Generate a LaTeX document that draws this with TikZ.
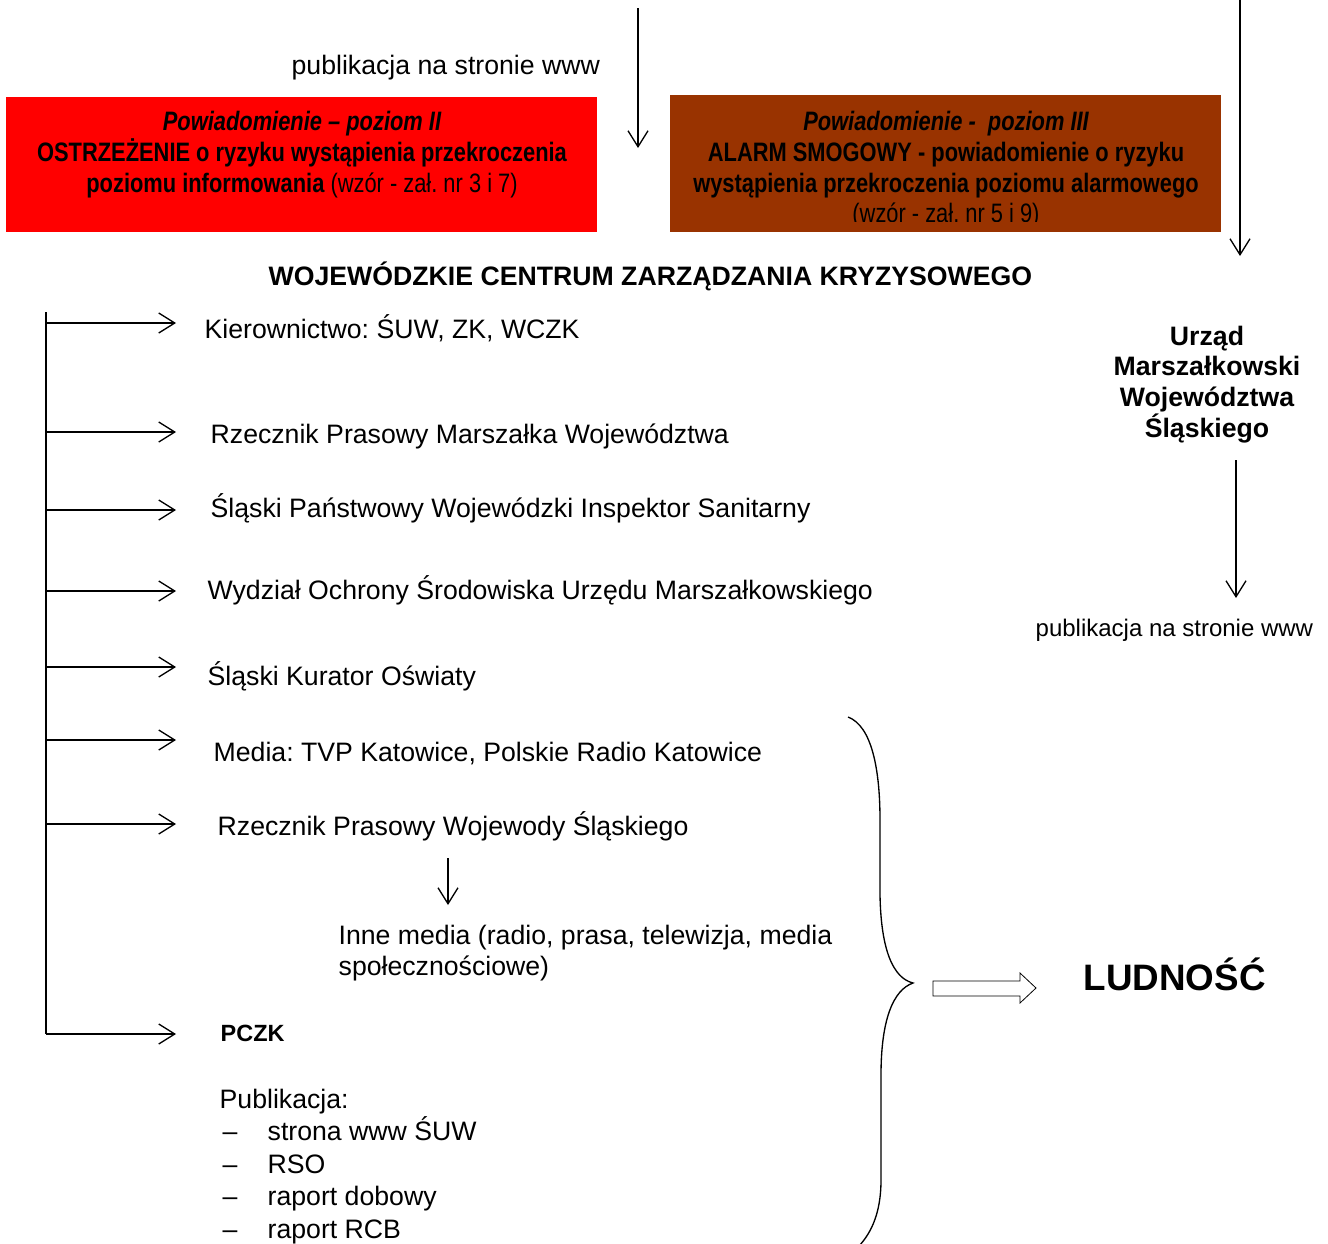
\documentclass[tikz,border=0pt]{standalone}
\usepackage{fontspec}
\setmainfont{Liberation Sans}
\newfontfamily\narrowfont[FakeStretch=0.82]{Liberation Sans}
\usetikzlibrary{arrows.meta,positioning}
\definecolor{alarmred}{HTML}{FF0000}
\definecolor{alarmbrown}{HTML}{993300}
\frenchspacing

\begin{document}
\begin{tikzpicture}[x=0.75pt,y=-0.75pt,line width=1pt,
                    >={Straight Barb[length=12pt,width=15pt]},
                    every node/.style={inner sep=0pt,font=\fontsize{20}{23}\selectfont},
                    textt/.style={anchor=base west},
                    boldd/.style={anchor=base,font=\fontsize{20}{23}\selectfont\bfseries},
                    boxline/.style={anchor=base,font=\narrowfont\fontsize{20}{23}\selectfont\bfseries},
                    boxitalic/.style={boxline,font=\narrowfont\fontsize{20}{23}\selectfont\bfseries\itshape},
                    smalll/.style={anchor=base west,font=\fontsize{18}{21}\selectfont}]
  \useasboundingbox (0,0) rectangle (1328,1243);

  % top part
  \node (PubTop) [textt] at (291,74) {publikacja na stronie www};
  \fill[alarmred] (6,97) rectangle (597,232);
  \fill[alarmbrown] (670,95) rectangle (1221,232);
  \node (PozIIa) [boxitalic] at (302,130) {Powiadomienie – poziom II};
  \node (PozIIb) [boxline] at (302,161) {OSTRZEŻENIE o ryzyku wystąpienia przekroczenia};
  \node (PozIIc) [boxline] at (302,192) {poziomu informowania {\mdseries(wzór - zał. nr 3 i 7)}};
  \begin{scope}
    \clip (670,95) rectangle (1221,221);
    \node (PozIIIa) [boxitalic] at (946,130) {Powiadomienie -\ \ poziom III};
    \node (PozIIIb) [boxline] at (946,161) {ALARM SMOGOWY - powiadomienie o ryzyku};
    \node (PozIIIc) [boxline] at (946,192) {wystąpienia przekroczenia poziomu alarmowego};
    \node (PozIIId) [boxline,font=\narrowfont\fontsize{20}{23}\selectfont] at (946,222) {(wzór - zał. nr 5 i 9)};
  \end{scope}
  \coordinate (TopIn) at (638,8);
  \coordinate (TopOut) at (638,148);
  \coordinate (RightIn) at (1240,0);
  \coordinate (RightOut) at (1240,256);
  \draw[->] (TopIn) -- (TopOut);
  \draw[->] (RightIn) -- (RightOut);

  \node (WCZK) [textt,font=\fontsize{20}{23}\selectfont\bfseries] at (268,285) {WOJEWÓDZKIE CENTRUM ZARZĄDZANIA KRYZYSOWEGO};

  % receivers
  \node (Kier) [textt] at (204,338) {Kierownictwo: ŚUW, ZK, WCZK};
  \node (RzMarsz) [textt] at (210,443) {Rzecznik Prasowy Marszałka Województwa};
  \node (Sanepid) [textt] at (210,517) {Śląski Państwowy Wojewódzki Inspektor Sanitarny};
  \node (WOS) [textt] at (207,599) {Wydział Ochrony Środowiska Urzędu Marszałkowskiego};
  \node (Kurator) [textt] at (207,685) {Śląski Kurator Oświaty};
  \node (Media) [textt] at (213,761) {Media: TVP Katowice, Polskie Radio Katowice};
  \node (RzWoj) [textt] at (217,835) {Rzecznik Prasowy Wojewody Śląskiego};
  \node (Inne) [textt,align=left] at (338,975) {Inne media (radio, prasa, telewizja, media\\społecznościowe)};
  \node (PCZK) [textt,font=\fontsize{17.6}{21}\selectfont\bfseries] at (220,1041) {PCZK};
  \node (Publ) [textt] at (219,1108) {Publikacja:};
  \node (DashA) [textt] at (222,1140) {–};
  \node (DashB) [textt] at (222,1173) {–};
  \node (DashC) [textt] at (222,1205) {–};
  \node (DashD) [textt] at (222,1238) {–};
  \node (Www) [textt] at (267,1140) {strona www ŚUW};
  \node (RSO) [textt] at (267,1173) {RSO};
  \node (Dobowy) [textt] at (267,1205) {raport dobowy};
  \node (RCB) [textt] at (267,1238) {raport RCB};

  \coordinate (T0) at (46,312);
  \coordinate (T1) at (46,323);   \coordinate (H1) at (176,323);
  \coordinate (T2) at (46,432);   \coordinate (H2) at (176,432);
  \coordinate (T3) at (46,510);   \coordinate (H3) at (176,510);
  \coordinate (T4) at (46,591);   \coordinate (H4) at (176,591);
  \coordinate (T5) at (46,667);   \coordinate (H5) at (176,667);
  \coordinate (T6) at (46,740);   \coordinate (H6) at (176,740);
  \coordinate (T7) at (46,824);   \coordinate (H7) at (176,824);
  \coordinate (T8) at (46,1034);  \coordinate (H8) at (176,1034);
  \draw (T0) -- (T8);
  \path[->]
    (T1) edge (H1)
    (T2) edge (H2)
    (T3) edge (H3)
    (T4) edge (H4)
    (T5) edge (H5)
    (T6) edge (H6)
    (T7) edge (H7)
    (T8) edge (H8)
    ;
  \coordinate (InneIn) at (448,858);
  \coordinate (InneOut) at (448,905);
  \draw[->] (InneIn) -- (InneOut);

  % right column
  \node (UMWS) [boldd,align=center] at (1207,437) {Urząd\\Marszałkowski\\Województwa\\Śląskiego};
  \coordinate (UmwsIn) at (1236,460);
  \coordinate (UmwsOut) at (1236,598);
  \draw[->] (UmwsIn) -- (UmwsOut);
  \node (PubRight) [smalll] at (1035,636) {publikacja na stronie www};

  % brace and population
  \draw (848,717) .. controls (872,726) and (880,770) .. (880,820)
        -- (880,895) .. controls (881,950) and (893,978) .. (913,983)
        .. controls (893,990) and (881,1020) .. (881,1075)
        -- (881,1180) .. controls (881,1215) and (870,1236) .. (855,1250);
  \draw[line width=0.6pt] (933,981) -- (1020,981) -- (1020,973) -- (1036,988)
        -- (1020,1003) -- (1020,996) -- (933,996) -- cycle;
  \node (Ludnosc) [textt,font=\fontsize{27.6}{30}\selectfont\bfseries] at (1083,990) {LUDNOŚĆ};
\end{tikzpicture}
\end{document}
